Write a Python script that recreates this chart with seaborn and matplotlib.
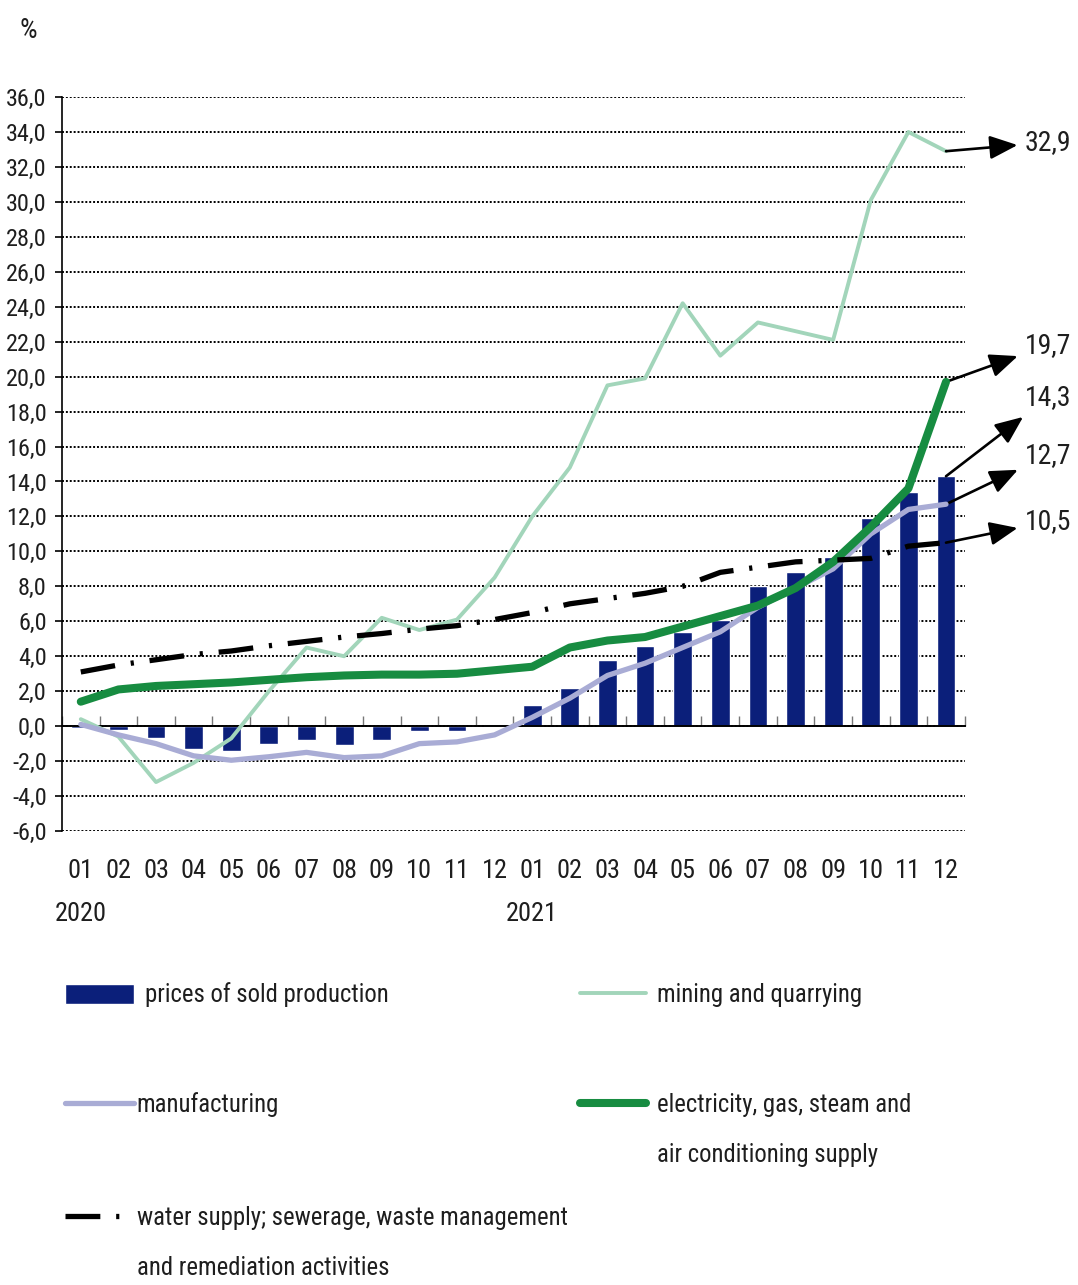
import numpy as np
import matplotlib
matplotlib.use("Agg")
import matplotlib.pyplot as plt
from matplotlib import font_manager
import seaborn as sns

# data (year-on-year change, %)
months = ["01", "02", "03", "04", "05", "06", "07", "08", "09", "10", "11", "12"] * 2
years = {0: "2020", 12: "2021"}
prices = [-0.1, -0.2, -0.7, -1.3, -1.4, -1.0, -0.8, -1.1, -0.8, -0.3, -0.3, 0.1,
          1.2, 2.2, 3.8, 4.6, 5.4, 6.1, 8.0, 8.8, 9.7, 11.9, 13.4, 14.3]
mining = [0.4, -0.6, -3.2, -2.1, -0.7, 2.0, 4.5, 4.0, 6.2, 5.5, 6.1, 8.5,
          12.0, 14.8, 19.5, 19.9, 24.2, 21.2, 23.1, 22.6, 22.1, 30.1, 34.0, 32.9]
manufacturing = [0.1, -0.5, -1.0, -1.7, -1.95, -1.75, -1.5, -1.8, -1.7, -1.0, -0.9, -0.5,
                 0.5, 1.6, 2.9, 3.6, 4.5, 5.4, 6.8, 7.9, 9.0, 11.0, 12.4, 12.7]
electricity = [1.4, 2.1, 2.3, 2.4, 2.5, 2.65, 2.8, 2.9, 2.95, 2.95, 3.0, 3.2,
               3.4, 4.5, 4.9, 5.1, 5.7, 6.3, 6.9, 7.9, 9.4, 11.4, 13.6, 19.7]
water = [3.1, 3.5, 3.8, 4.1, 4.3, 4.6, 4.85, 5.1, 5.3, 5.55, 5.75, 6.1,
         6.5, 7.0, 7.3, 7.6, 8.0, 8.8, 9.1, 9.4, 9.5, 9.6, 10.3, 10.5]

lbl_prices = "prices of sold production"
lbl_mining = "mining and quarrying"
lbl_manuf = "manufacturing"
lbl_elec = "electricity, gas, steam and\nair conditioning supply"
lbl_water = "water supply; sewerage, waste management\nand remediation activities"

C_BAR = "#0b1f7a"
C_MINING = "#a2d5ba"
C_MANUF = "#a9acd5"
C_ELEC = "#178c41"
C_WATER = "black"
WATER_DASH = (0, (6.6, 3.0, 0.6, 3.0))


def pick_condensed_font():
    """Return (family, stretch) of a condensed face if one is installed."""
    prefs = ["Roboto", "Open Sans", "Noto Sans", "Liberation Sans", "DejaVu Sans", "Lato", "Inter"]
    found = []
    for f in font_manager.fontManager.ttflist:
        narrow = ("Condensed" in f.name or "Narrow" in f.name
                  or str(f.stretch) in ("condensed", "semi-condensed", "extra-condensed"))
        if narrow and f.style == "normal" and str(f.weight) in ("400", "normal", "regular"):
            found.append(f)
    for p in prefs:
        for f in found:
            if f.name.startswith(p):
                return f.name, f.stretch
    if found:
        return found[0].name, found[0].stretch
    return "DejaVu Sans", "normal"


sns.set_style("white")
family, stretch = pick_condensed_font()
plt.rcParams["font.family"] = [family, "DejaVu Sans"]
plt.rcParams["font.stretch"] = stretch
plt.rcParams["text.color"] = "#1e1e1e"

fig = plt.figure(figsize=(10.78, 12.85), dpi=100)
ax = fig.add_axes([0.0575, 0.3533, 0.8375, 0.5712])

pos = np.arange(len(months))
sns.barplot(x=pos, y=prices, color=C_BAR, saturation=1, width=0.5,
            label=lbl_prices, ax=ax, zorder=2)
sns.lineplot(x=pos, y=mining, color=C_MINING, lw=2.8, label=lbl_mining, ax=ax, zorder=3)
sns.lineplot(x=pos, y=manufacturing, color=C_MANUF, lw=3.8, label=lbl_manuf, ax=ax, zorder=4)
sns.lineplot(x=pos, y=electricity, color=C_ELEC, lw=5.8, label=lbl_elec, ax=ax, zorder=5)
sns.lineplot(x=pos, y=water, color=C_WATER, lw=3.8, label=lbl_water, ax=ax, zorder=6)
ax.lines[-1].set_linestyle(WATER_DASH)
ax.lines[-1].set_dash_capstyle("butt")
if ax.get_legend() is not None:
    ax.get_legend().remove()

ax.set_xlim(-0.5, len(months) - 0.5)
ax.set_ylim(-6, 36)
ax.set_xlabel("")
ax.set_ylabel("")

# y axis
yticks = np.arange(-6, 37, 2)
ax.set_yticks(yticks, labels=[f"{v:.1f}".replace(".", ",") for v in yticks])
ax.tick_params(axis="y", length=5, width=1.2, color="black", direction="out",
               labelsize=17.5, pad=6, left=True, labelcolor="#1e1e1e")
ax.yaxis.grid(True, linestyle=(0, (1, 1)), color="black", lw=1.4)
ax.xaxis.grid(False)
ax.set_axisbelow(True)
for side in ["top", "right"]:
    ax.spines[side].set_visible(False)
ax.spines["left"].set_color("black")
ax.spines["left"].set_linewidth(1.2)

# zero line with small separators between months
ax.spines["bottom"].set_position(("data", 0))
ax.spines["bottom"].set_color("black")
ax.spines["bottom"].set_linewidth(1.4)
ax.set_xticks(np.arange(-0.5, len(months), 1), labels=[])
ax.tick_params(axis="x", direction="in", length=7, width=1, color="#777777", bottom=True)

# month labels along the bottom edge
sec = ax.secondary_xaxis("bottom")
sec.spines["bottom"].set_visible(False)
sec.set_xticks(pos, labels=[m + ("\n" + years[i] if i in years else "") for i, m in enumerate(months)])
sec.tick_params(length=0, pad=20, labelsize=19, labelcolor="#1e1e1e")
for t in sec.get_xticklabels():
    t.set_linespacing(2.0)

# final values with arrows
ends = [(mining, 33.4), (electricity, 21.8), (prices, 18.8), (manufacturing, 15.5), (water, 11.7)]
for series, ty in ends:
    v = series[-1]
    ax.annotate(f"{v:.1f}".replace(".", ","), xy=(pos[-1], v), xytext=(25.1, ty),
                ha="left", va="center", fontsize=20, color="#1e1e1e",
                annotation_clip=False,
                arrowprops=dict(arrowstyle="<|-,head_length=0.85,head_width=0.36",
                                color="black", lw=1.9, mutation_scale=20,
                                shrinkA=3, shrinkB=0))

fig.text(28 / 1078, 1 - 30 / 1285, "%", fontsize=20, ha="center", va="center")

# legend, one entry at a time to keep the reference layout
handles, labels = ax.get_legend_handles_labels()
hmap = dict(zip(labels, handles))
leg_spec = [
    (lbl_prices, 65, 995, 2.8, 0.45),
    (lbl_mining, 580, 995, 2.65, 0.45),
    (lbl_manuf, 65, 1105, 2.8, 0.1),
    (lbl_elec, 580, 1105, 2.65, 0.45),
    (lbl_water, 65, 1218, 2.45, 0.45),
]
FS = 17.8
for lab, px, py, hl, pad in leg_spec:
    first, *rest = lab.split("\n")
    leg = fig.legend([hmap[lab]], [first], loc="center left",
                     bbox_to_anchor=(px / 1078, 1 - py / 1285),
                     frameon=False, fontsize=FS, handlelength=hl, handleheight=0.85,
                     handletextpad=pad, borderpad=0, borderaxespad=0)
    if rest:
        fig.canvas.draw()
        txt = leg.get_texts()[0]
        bb = txt.get_window_extent()
        x0 = bb.x0 / fig.bbox.width
        fig.text(x0, 1 - (py + 50) / 1285, rest[0], fontsize=FS, ha="left", va="center")

fig.savefig("out.png", dpi=100)
